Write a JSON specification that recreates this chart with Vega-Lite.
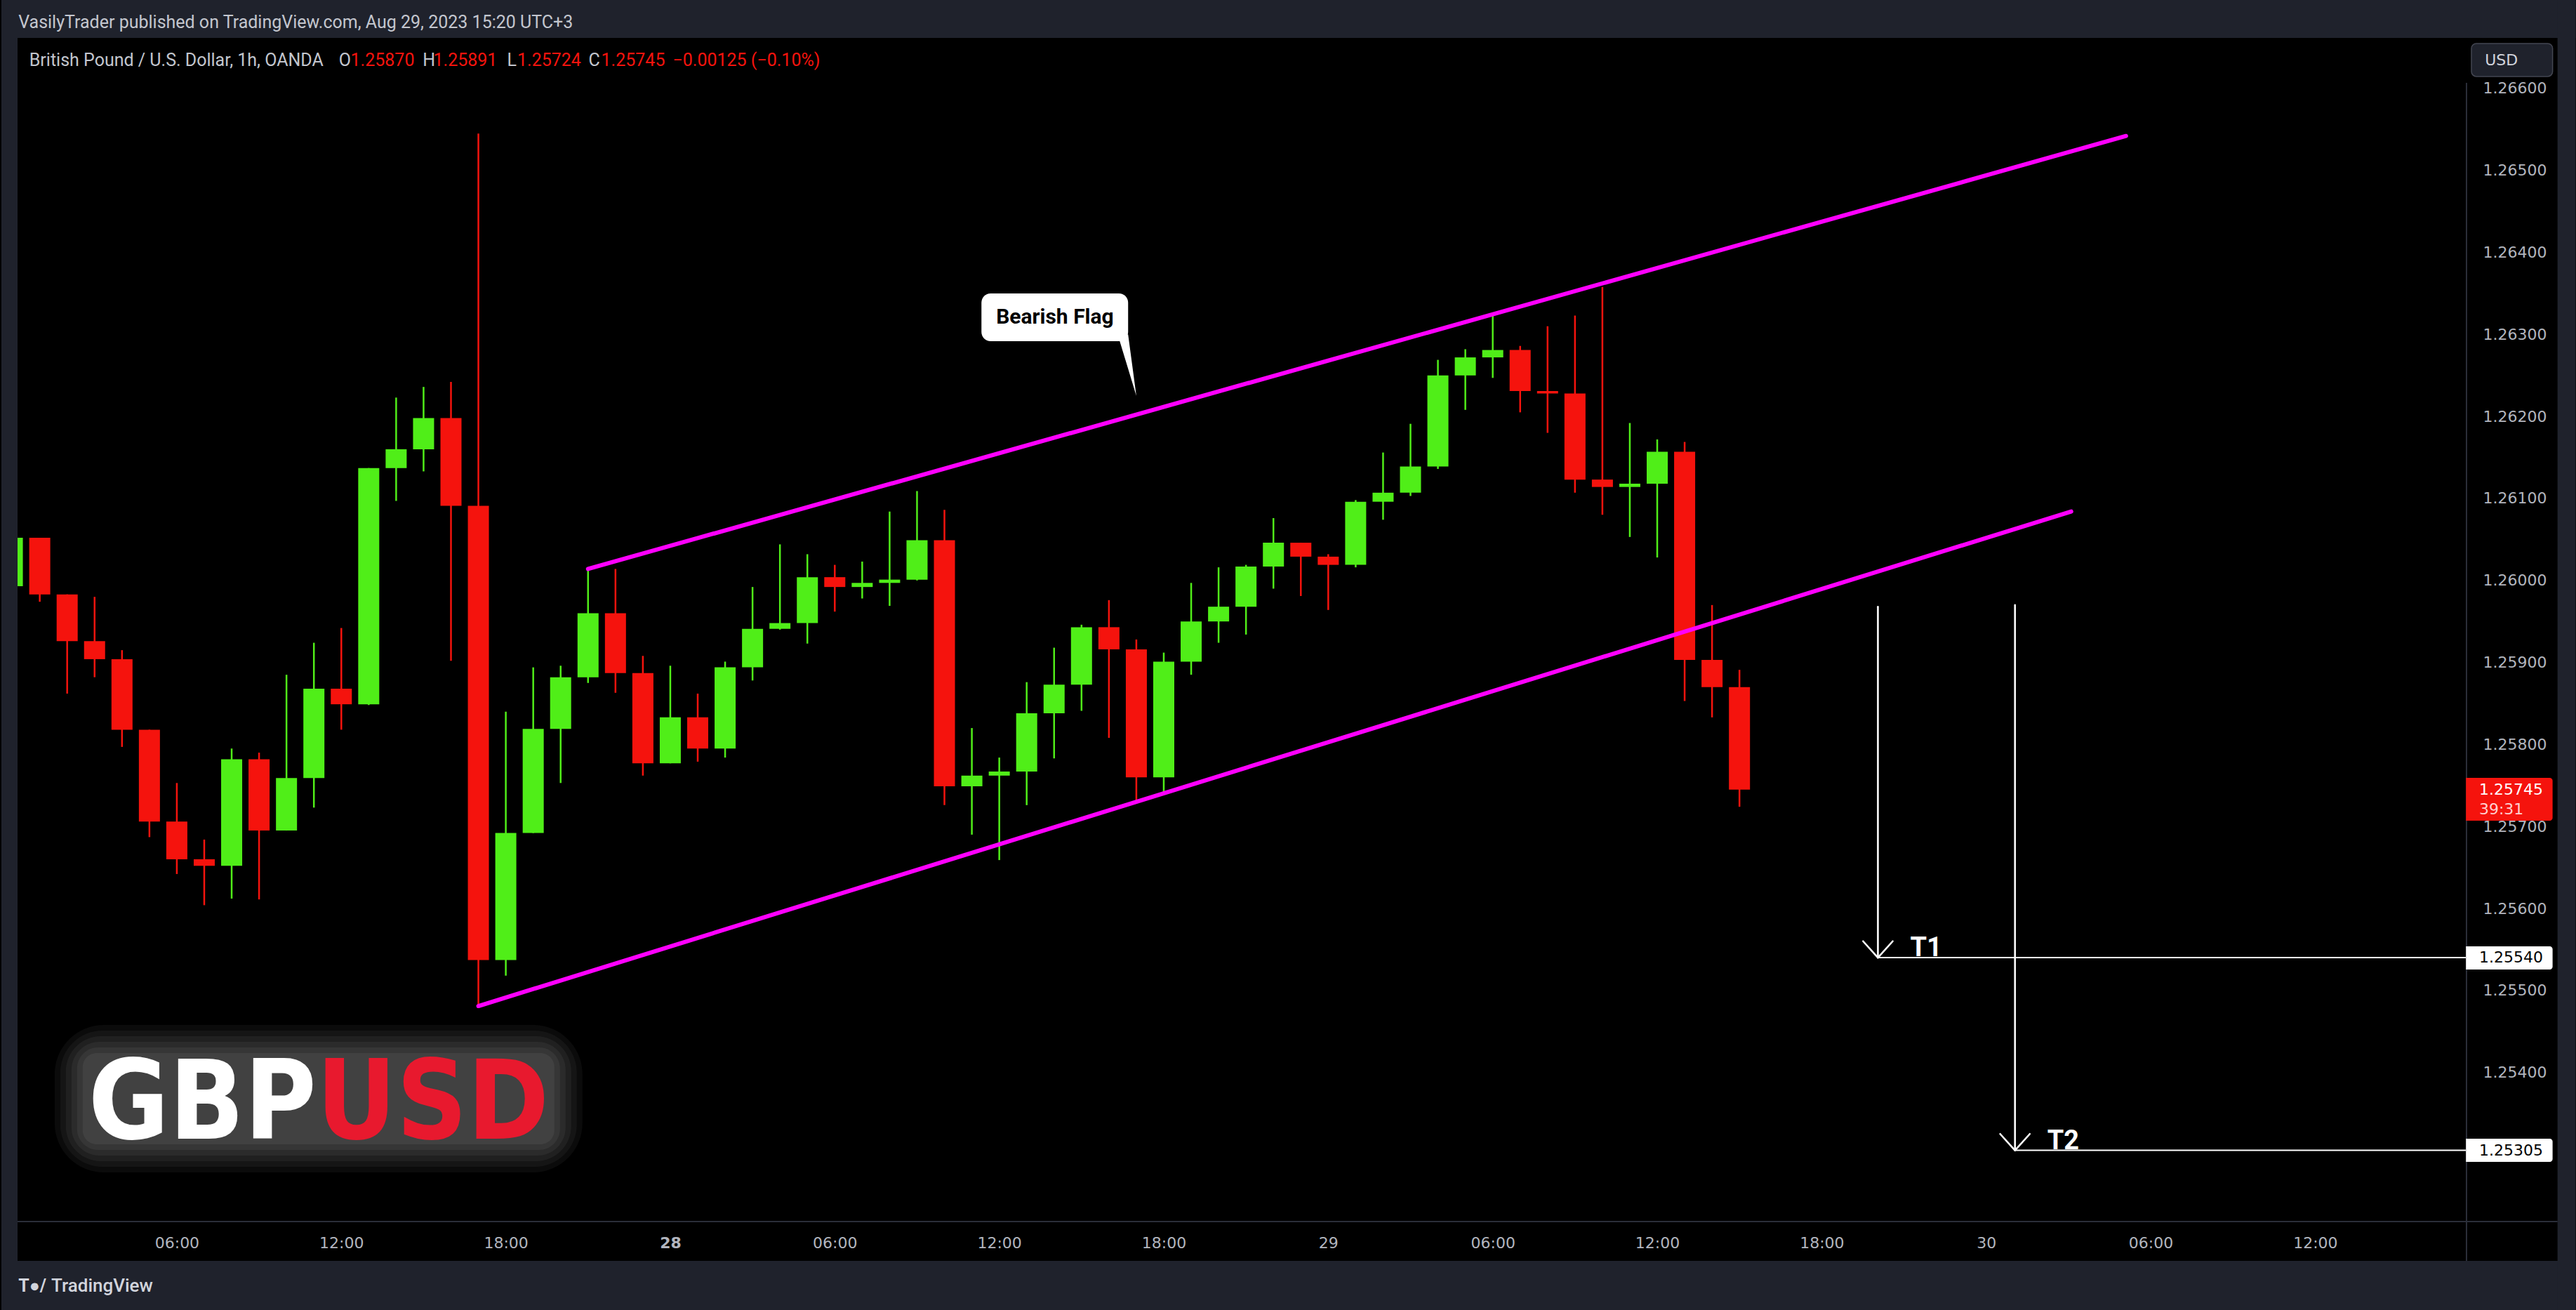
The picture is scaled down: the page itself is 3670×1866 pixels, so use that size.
{
  "$schema": "https://vega.github.io/schema/vega-lite/v6.json",
  "width": 3499,
  "height": 1686,
  "autosize": {"type": "none"},
  "padding": {"left": 20, "top": 54, "right": 151, "bottom": 126},
  "background": "#000000",
  "config": {"view": {"stroke": null}},
  "datasets": {
    "candles": [
      {"i":-24,"o":1.25993,"h":1.26070,"l":1.25975,"c":1.26052},
      {"i":-23,"o":1.26052,"h":1.26052,"l":1.25974,"c":1.25983},
      {"i":-22,"o":1.25983,"h":1.25983,"l":1.25862,"c":1.25926},
      {"i":-21,"o":1.25926,"h":1.25980,"l":1.25882,"c":1.25904},
      {"i":-20,"o":1.25904,"h":1.25915,"l":1.25797,"c":1.25818},
      {"i":-19,"o":1.25818,"h":1.25818,"l":1.25687,"c":1.25706},
      {"i":-18,"o":1.25706,"h":1.25753,"l":1.25642,"c":1.25660},
      {"i":-17,"o":1.25660,"h":1.25684,"l":1.25604,"c":1.25652},
      {"i":-16,"o":1.25652,"h":1.25795,"l":1.25612,"c":1.25782},
      {"i":-15,"o":1.25782,"h":1.25790,"l":1.25611,"c":1.25695},
      {"i":-14,"o":1.25695,"h":1.25885,"l":1.25695,"c":1.25759},
      {"i":-13,"o":1.25759,"h":1.25924,"l":1.25723,"c":1.25868},
      {"i":-12,"o":1.25868,"h":1.25942,"l":1.25818,"c":1.25849},
      {"i":-11,"o":1.25849,"h":1.26137,"l":1.25848,"c":1.26137},
      {"i":-10,"o":1.26137,"h":1.26223,"l":1.26097,"c":1.26160},
      {"i":-9,"o":1.26160,"h":1.26236,"l":1.26133,"c":1.26198},
      {"i":-8,"o":1.26198,"h":1.26242,"l":1.25902,"c":1.26091},
      {"i":-7,"o":1.26091,"h":1.26545,"l":1.25481,"c":1.25537},
      {"i":-6,"o":1.25537,"h":1.25840,"l":1.25518,"c":1.25692},
      {"i":-5,"o":1.25692,"h":1.25894,"l":1.25692,"c":1.25819},
      {"i":-4,"o":1.25819,"h":1.25896,"l":1.25753,"c":1.25882},
      {"i":-3,"o":1.25882,"h":1.26014,"l":1.25875,"c":1.25960},
      {"i":-2,"o":1.25960,"h":1.26014,"l":1.25863,"c":1.25887},
      {"i":-1,"o":1.25887,"h":1.25908,"l":1.25762,"c":1.25777},
      {"i":0,"o":1.25777,"h":1.25896,"l":1.25777,"c":1.25833},
      {"i":1,"o":1.25833,"h":1.25862,"l":1.25779,"c":1.25795},
      {"i":2,"o":1.25795,"h":1.25901,"l":1.25784,"c":1.25894},
      {"i":3,"o":1.25894,"h":1.25992,"l":1.25878,"c":1.25941},
      {"i":4,"o":1.25941,"h":1.26044,"l":1.25940,"c":1.25948},
      {"i":5,"o":1.25948,"h":1.26032,"l":1.25923,"c":1.26004},
      {"i":6,"o":1.26004,"h":1.26019,"l":1.25962,"c":1.25992},
      {"i":7,"o":1.25992,"h":1.26023,"l":1.25978,"c":1.25997},
      {"i":8,"o":1.25997,"h":1.26084,"l":1.25969,"c":1.26001},
      {"i":9,"o":1.26001,"h":1.26109,"l":1.26000,"c":1.26049},
      {"i":10,"o":1.26049,"h":1.26086,"l":1.25726,"c":1.25749},
      {"i":11,"o":1.25749,"h":1.25820,"l":1.25690,"c":1.25762},
      {"i":12,"o":1.25762,"h":1.25784,"l":1.25659,"c":1.25767},
      {"i":13,"o":1.25767,"h":1.25876,"l":1.25726,"c":1.25838},
      {"i":14,"o":1.25838,"h":1.25918,"l":1.25783,"c":1.25873},
      {"i":15,"o":1.25873,"h":1.25946,"l":1.25841,"c":1.25943},
      {"i":16,"o":1.25943,"h":1.25976,"l":1.25808,"c":1.25916},
      {"i":17,"o":1.25916,"h":1.25928,"l":1.25730,"c":1.25760},
      {"i":18,"o":1.25760,"h":1.25912,"l":1.25742,"c":1.25901},
      {"i":19,"o":1.25901,"h":1.25997,"l":1.25885,"c":1.25950},
      {"i":20,"o":1.25950,"h":1.26016,"l":1.25924,"c":1.25968},
      {"i":21,"o":1.25968,"h":1.26019,"l":1.25934,"c":1.26017},
      {"i":22,"o":1.26017,"h":1.26076,"l":1.25990,"c":1.26046},
      {"i":23,"o":1.26046,"h":1.26046,"l":1.25981,"c":1.26029},
      {"i":24,"o":1.26029,"h":1.26032,"l":1.25964,"c":1.26019},
      {"i":25,"o":1.26019,"h":1.26098,"l":1.26016,"c":1.26096},
      {"i":26,"o":1.26096,"h":1.26156,"l":1.26074,"c":1.26107},
      {"i":27,"o":1.26107,"h":1.26191,"l":1.26103,"c":1.26139},
      {"i":28,"o":1.26139,"h":1.26269,"l":1.26136,"c":1.26250},
      {"i":29,"o":1.26250,"h":1.26282,"l":1.26208,"c":1.26272},
      {"i":30,"o":1.26272,"h":1.26323,"l":1.26247,"c":1.26281},
      {"i":31,"o":1.26281,"h":1.26286,"l":1.26205,"c":1.26231},
      {"i":32,"o":1.26231,"h":1.26310,"l":1.26180,"c":1.26228},
      {"i":33,"o":1.26228,"h":1.26323,"l":1.26107,"c":1.26123},
      {"i":34,"o":1.26123,"h":1.26358,"l":1.26080,"c":1.26114},
      {"i":35,"o":1.26114,"h":1.26192,"l":1.26053,"c":1.26118},
      {"i":36,"o":1.26118,"h":1.26172,"l":1.26028,"c":1.26157},
      {"i":37,"o":1.26157,"h":1.26169,"l":1.25853,"c":1.25903},
      {"i":38,"o":1.25903,"h":1.25970,"l":1.25833,"c":1.25870},
      {"i":39,"o":1.25870,"h":1.25891,"l":1.25724,"c":1.25745}
    ],
    "channel": [
      {"line":"upper","i1":-3,"p1":1.26014,"i2":53.1,"p2":1.26542},
      {"line":"lower","i1":-7,"p1":1.25481,"i2":51.1,"p2":1.26084}
    ],
    "targets": [
      {"part":"arrow","i1":44.05,"p1":1.25968,"i2":44.05,"p2":1.2554},
      {"part":"arrow","i1":43.51,"p1":1.2556,"i2":44.05,"p2":1.2554},
      {"part":"arrow","i1":44.59,"p1":1.2556,"i2":44.05,"p2":1.2554},
      {"part":"level","i1":44.05,"p1":1.2554,"i2":65.52,"p2":1.2554},
      {"part":"arrow","i1":49.05,"p1":1.2597,"i2":49.05,"p2":1.25305},
      {"part":"arrow","i1":48.51,"p1":1.25325,"i2":49.05,"p2":1.25305},
      {"part":"arrow","i1":49.59,"p1":1.25325,"i2":49.05,"p2":1.25305},
      {"part":"level","i1":49.05,"p1":1.25305,"i2":65.52,"p2":1.25305}
    ],
    "targetLabels": [
      {"t":"T1","i":44.05,"p":1.2554},
      {"t":"T2","i":49.05,"p":1.25305}
    ],
    "tail": [
      {"i":16.32,"top":1.263,"bot":1.263},
      {"i":16.70,"top":1.263,"bot":1.262581},
      {"i":17.0,"top":1.26225,"bot":1.26225}
    ]
  },
  "layer": [
    {
      "data": {"name": "candles"},
      "mark": {"type": "rule", "strokeWidth": 2.5, "clip": true},
      "encoding": {
        "x": {"field": "i", "type": "quantitative", "scale": {"domain": [-23.81, 65.52], "nice": false, "zero": false},
          "axis": {"orient": "bottom", "values": [-24,-18,-12,-6,0,6,12,18,24,30,36,42,48,54,60],
            "labelExpr": "datum.value == -24 ? '25' : datum.value == 0 ? '28' : datum.value == 24 ? '29' : datum.value == 48 ? '30' : ((datum.value % 24) + 24) % 24 == 6 ? '06:00' : ((datum.value % 24) + 24) % 24 == 12 ? '12:00' : '18:00'",
            "labelFont": "DejaVu Sans", "labelFontSize": 22, "labelColor": "#b2b5be",
            "labelFontWeight": {"condition": {"test": "datum.value == 0", "value": "bold"}, "value": "normal"},
            "ticks": false, "domain": false, "grid": false, "labelPadding": 20, "labelOverlap": false, "labelFlush": false, "labelBound": false, "title": null}},
        "y": {"field": "l", "type": "quantitative", "scale": {"domain": [1.252182, 1.266616], "nice": false, "zero": false},
          "axis": {"orient": "right", "values": [1.253,1.254,1.255,1.256,1.257,1.258,1.259,1.26,1.261,1.262,1.263,1.264,1.265,1.266],
            "format": ".5f", "labelFont": "DejaVu Sans", "labelFontSize": 22, "labelColor": "#b2b5be",
            "ticks": false, "domain": false, "grid": false, "labelPadding": 18, "labelAlign": "left", "labelBaseline": "middle",
            "labelOverlap": false, "labelFlush": false, "labelBound": false, "title": null}},
        "y2": {"field": "h"},
        "color": {"condition": {"test": "datum.c >= datum.o", "value": "#50ee18"}, "value": "#f5130d"}
      }
    },
    {
      "data": {"name": "candles"},
      "mark": {"type": "bar", "size": 30, "clip": true},
      "encoding": {
        "x": {"field": "i", "type": "quantitative", "scale": {"domain": [-23.81, 65.52], "nice": false, "zero": false}},
        "y": {"field": "o", "type": "quantitative", "scale": {"domain": [1.252182, 1.266616], "nice": false, "zero": false}},
        "y2": {"field": "c"},
        "color": {"condition": {"test": "datum.c >= datum.o", "value": "#50ee18"}, "value": "#f5130d"}
      }
    },
    {
      "data": {"name": "channel"},
      "mark": {"type": "rule", "strokeWidth": 6, "color": "#ff00ff", "strokeCap": "round"},
      "encoding": {
        "x": {"field": "i1", "type": "quantitative", "scale": {"domain": [-23.81, 65.52], "nice": false, "zero": false}},
        "x2": {"field": "i2"},
        "y": {"field": "p1", "type": "quantitative", "scale": {"domain": [1.252182, 1.266616], "nice": false, "zero": false}},
        "y2": {"field": "p2"}
      }
    },
    {
      "data": {"name": "targets"},
      "transform": [{"filter": "datum.part == 'arrow'"}],
      "mark": {"type": "rule", "strokeWidth": 2.6, "color": "#ffffff", "strokeCap": "round"},
      "encoding": {
        "x": {"field": "i1", "type": "quantitative", "scale": {"domain": [-23.81, 65.52], "nice": false, "zero": false}},
        "x2": {"field": "i2"},
        "y": {"field": "p1", "type": "quantitative", "scale": {"domain": [1.252182, 1.266616], "nice": false, "zero": false}},
        "y2": {"field": "p2"}
      }
    },
    {
      "data": {"name": "targets"},
      "transform": [{"filter": "datum.part == 'level'"}],
      "mark": {"type": "rule", "strokeWidth": 2, "color": "#ffffff"},
      "encoding": {
        "x": {"field": "i1", "type": "quantitative", "scale": {"domain": [-23.81, 65.52], "nice": false, "zero": false}},
        "x2": {"field": "i2"},
        "y": {"field": "p1", "type": "quantitative", "scale": {"domain": [1.252182, 1.266616], "nice": false, "zero": false}},
        "y2": {"field": "p2"}
      }
    },
    {
      "data": {"name": "targetLabels"},
      "mark": {"type": "text", "font": "Roboto", "fontSize": 38, "fontWeight": "bold", "color": "#ffffff", "align": "left", "baseline": "alphabetic", "dx": 46, "dy": -2},
      "encoding": {
        "x": {"field": "i", "type": "quantitative", "scale": {"domain": [-23.81, 65.52], "nice": false, "zero": false}},
        "y": {"field": "p", "type": "quantitative", "scale": {"domain": [1.252182, 1.266616], "nice": false, "zero": false}},
        "text": {"field": "t"}
      }
    },
    {
      "data": {"values": [{}]},
      "mark": {"type": "rect", "color": "#ffffff", "cornerRadius": 13},
      "encoding": {
        "x": {"datum": 11.35, "type": "quantitative", "scale": {"domain": [-23.81, 65.52], "nice": false, "zero": false}},
        "x2": {"datum": 16.70},
        "y": {"datum": 1.2635, "type": "quantitative", "scale": {"domain": [1.252182, 1.266616], "nice": false, "zero": false}},
        "y2": {"datum": 1.262918}
      }
    },
    {
      "data": {"name": "tail"},
      "mark": {"type": "area", "color": "#ffffff"},
      "encoding": {
        "x": {"field": "i", "type": "quantitative", "scale": {"domain": [-23.81, 65.52], "nice": false, "zero": false}},
        "y": {"field": "top", "type": "quantitative", "scale": {"domain": [1.252182, 1.266616], "nice": false, "zero": false}},
        "y2": {"field": "bot"}
      }
    },
    {
      "data": {"values": [{}]},
      "mark": {"type": "text", "text": "Bearish Flag", "font": "Roboto", "fontSize": 30, "fontWeight": "bold", "color": "#000000", "align": "center", "baseline": "middle"},
      "encoding": {
        "x": {"datum": 14.03, "type": "quantitative", "scale": {"domain": [-23.81, 65.52], "nice": false, "zero": false}},
        "y": {"datum": 1.263209, "type": "quantitative", "scale": {"domain": [1.252182, 1.266616], "nice": false, "zero": false}}
      }
    },
    {
      "data": {"values": [{}]},
      "mark": {"type": "rect", "color": "#ffffff", "opacity": 0.045, "cornerRadius": 70},
      "encoding": {
        "x": {"datum": -22.456, "type": "quantitative", "scale": {"domain": [-23.81, 65.52], "nice": false, "zero": false}},
        "x2": {"datum": -3.206},
        "y": {"datum": 1.254579, "type": "quantitative", "scale": {"domain": [1.252182, 1.266616], "nice": false, "zero": false}},
        "y2": {"datum": 1.252781}
      }
    },
    {
      "data": {"values": [{}]},
      "mark": {"type": "rect", "color": "#ffffff", "opacity": 0.045, "cornerRadius": 60},
      "encoding": {
        "x": {"datum": -22.252, "type": "quantitative", "scale": {"domain": [-23.81, 65.52], "nice": false, "zero": false}},
        "x2": {"datum": -3.410},
        "y": {"datum": 1.254510, "type": "quantitative", "scale": {"domain": [1.252182, 1.266616], "nice": false, "zero": false}},
        "y2": {"datum": 1.252849}
      }
    },
    {
      "data": {"values": [{}]},
      "mark": {"type": "rect", "color": "#ffffff", "opacity": 0.05, "cornerRadius": 50},
      "encoding": {
        "x": {"datum": -22.048, "type": "quantitative", "scale": {"domain": [-23.81, 65.52], "nice": false, "zero": false}},
        "x2": {"datum": -3.615},
        "y": {"datum": 1.254442, "type": "quantitative", "scale": {"domain": [1.252182, 1.266616], "nice": false, "zero": false}},
        "y2": {"datum": 1.252918}
      }
    },
    {
      "data": {"values": [{}]},
      "mark": {"type": "rect", "color": "#ffffff", "opacity": 0.05, "cornerRadius": 40},
      "encoding": {
        "x": {"datum": -21.843, "type": "quantitative", "scale": {"domain": [-23.81, 65.52], "nice": false, "zero": false}},
        "x2": {"datum": -3.819},
        "y": {"datum": 1.254373, "type": "quantitative", "scale": {"domain": [1.252182, 1.266616], "nice": false, "zero": false}},
        "y2": {"datum": 1.252986}
      }
    },
    {
      "data": {"values": [{}]},
      "mark": {"type": "rect", "color": "#ffffff", "opacity": 0.055, "cornerRadius": 30},
      "encoding": {
        "x": {"datum": -21.639, "type": "quantitative", "scale": {"domain": [-23.81, 65.52], "nice": false, "zero": false}},
        "x2": {"datum": -4.023},
        "y": {"datum": 1.254305, "type": "quantitative", "scale": {"domain": [1.252182, 1.266616], "nice": false, "zero": false}},
        "y2": {"datum": 1.253055}
      }
    },
    {
      "data": {"values": [{}]},
      "mark": {"type": "rect", "color": "#ffffff", "opacity": 0.055, "cornerRadius": 20},
      "encoding": {
        "x": {"datum": -21.435, "type": "quantitative", "scale": {"domain": [-23.81, 65.52], "nice": false, "zero": false}},
        "x2": {"datum": -4.228},
        "y": {"datum": 1.254236, "type": "quantitative", "scale": {"domain": [1.252182, 1.266616], "nice": false, "zero": false}},
        "y2": {"datum": 1.253123}
      }
    },
    {
      "data": {"values": [{}]},
      "mark": {"type": "text", "text": "GBP", "font": "DejaVu Sans Condensed, Roboto", "fontSize": 156, "fontWeight": "bold", "color": "#ffffff", "align": "right", "baseline": "alphabetic"},
      "encoding": {
        "x": {"datum": -12.91, "type": "quantitative", "scale": {"domain": [-23.81, 65.52], "nice": false, "zero": false}},
        "y": {"datum": 1.253192, "type": "quantitative", "scale": {"domain": [1.252182, 1.266616], "nice": false, "zero": false}}
      }
    },
    {
      "data": {"values": [{}]},
      "mark": {"type": "text", "text": "USD", "font": "DejaVu Sans Condensed, Roboto", "fontSize": 156, "fontWeight": "bold", "color": "#e8192e", "align": "left", "baseline": "alphabetic"},
      "encoding": {
        "x": {"datum": -12.91, "type": "quantitative", "scale": {"domain": [-23.81, 65.52], "nice": false, "zero": false}},
        "y": {"datum": 1.253192, "type": "quantitative", "scale": {"domain": [1.252182, 1.266616], "nice": false, "zero": false}}
      }
    },
    {
      "data": {"values": [{}]},
      "mark": {"type": "rect", "color": "#1f222c"},
      "encoding": {
        "x": {"datum": -24.4, "type": "quantitative", "scale": {"domain": [-23.81, 65.52], "nice": false, "zero": false}},
        "x2": {"datum": 69.5},
        "y": {"datum": 1.2672, "type": "quantitative", "scale": {"domain": [1.252182, 1.266616], "nice": false, "zero": false}},
        "y2": {"datum": 1.266616}
      }
    },
    {
      "data": {"values": [{}]},
      "mark": {"type": "rect", "color": "#1f222c"},
      "encoding": {
        "x": {"datum": -24.4, "type": "quantitative", "scale": {"domain": [-23.81, 65.52], "nice": false, "zero": false}},
        "x2": {"datum": 69.5},
        "y": {"datum": 1.251702, "type": "quantitative", "scale": {"domain": [1.252182, 1.266616], "nice": false, "zero": false}},
        "y2": {"datum": 1.2510}
      }
    },
    {
      "data": {"values": [{}]},
      "mark": {"type": "rect", "color": "#1f222c"},
      "encoding": {
        "x": {"datum": -24.4, "type": "quantitative", "scale": {"domain": [-23.81, 65.52], "nice": false, "zero": false}},
        "x2": {"datum": -23.81},
        "y": {"datum": 1.2672, "type": "quantitative", "scale": {"domain": [1.252182, 1.266616], "nice": false, "zero": false}},
        "y2": {"datum": 1.2510}
      }
    },
    {
      "data": {"values": [{}]},
      "mark": {"type": "rect", "color": "#1f222c"},
      "encoding": {
        "x": {"datum": 68.84, "type": "quantitative", "scale": {"domain": [-23.81, 65.52], "nice": false, "zero": false}},
        "x2": {"datum": 69.5},
        "y": {"datum": 1.2672, "type": "quantitative", "scale": {"domain": [1.252182, 1.266616], "nice": false, "zero": false}},
        "y2": {"datum": 1.2510}
      }
    },
    {
      "data": {"values": [{}]},
      "mark": {"type": "rule", "color": "#2a2e39", "strokeWidth": 2},
      "encoding": {
        "x": {"datum": -23.81, "type": "quantitative", "scale": {"domain": [-23.81, 65.52], "nice": false, "zero": false}},
        "x2": {"datum": 68.84},
        "y": {"datum": 1.252182, "type": "quantitative", "scale": {"domain": [1.252182, 1.266616], "nice": false, "zero": false}}
      }
    },
    {
      "data": {"values": [{}]},
      "mark": {"type": "rule", "color": "#2a2e39", "strokeWidth": 2},
      "encoding": {
        "x": {"datum": 65.52, "type": "quantitative", "scale": {"domain": [-23.81, 65.52], "nice": false, "zero": false}},
        "y": {"datum": 1.266068, "type": "quantitative", "scale": {"domain": [1.252182, 1.266616], "nice": false, "zero": false}},
        "y2": {"datum": 1.251702}
      }
    },
    {
      "data": {"values": [{}]},
      "mark": {"type": "rect", "color": "#ffffff", "cornerRadiusTopRight": 4, "cornerRadiusBottomRight": 4},
      "encoding": {
        "x": {"datum": 65.50, "type": "quantitative", "scale": {"domain": [-23.81, 65.52], "nice": false, "zero": false}},
        "x2": {"datum": 68.66},
        "y": {"datum": 1.255538, "type": "quantitative", "scale": {"domain": [1.252182, 1.266616], "nice": false, "zero": false}},
        "y2": {"datum": 1.255255}
      }
    },
    {
      "data": {"values": [{}]},
      "mark": {"type": "rect", "color": "#ffffff", "cornerRadiusTopRight": 4, "cornerRadiusBottomRight": 4},
      "encoding": {
        "x": {"datum": 65.50, "type": "quantitative", "scale": {"domain": [-23.81, 65.52], "nice": false, "zero": false}},
        "x2": {"datum": 68.66},
        "y": {"datum": 1.253192, "type": "quantitative", "scale": {"domain": [1.252182, 1.266616], "nice": false, "zero": false}},
        "y2": {"datum": 1.252909}
      }
    },
    {
      "data": {"values": [{}]},
      "mark": {"type": "rect", "color": "#f5130d", "cornerRadiusTopRight": 4, "cornerRadiusBottomRight": 4},
      "encoding": {
        "x": {"datum": 65.50, "type": "quantitative", "scale": {"domain": [-23.81, 65.52], "nice": false, "zero": false}},
        "x2": {"datum": 68.66},
        "y": {"datum": 1.257592, "type": "quantitative", "scale": {"domain": [1.252182, 1.266616], "nice": false, "zero": false}},
        "y2": {"datum": 1.25707}
      }
    },
    {
      "data": {"values": [{"t": "1.25540", "p": 1.2554}, {"t": "1.25305", "p": 1.25305}]},
      "mark": {"type": "text", "font": "DejaVu Sans", "fontSize": 22, "color": "#000000", "align": "left", "baseline": "middle"},
      "encoding": {
        "x": {"datum": 65.98, "type": "quantitative", "scale": {"domain": [-23.81, 65.52], "nice": false, "zero": false}},
        "y": {"field": "p", "type": "quantitative", "scale": {"domain": [1.252182, 1.266616], "nice": false, "zero": false}},
        "text": {"field": "t"}
      }
    },
    {
      "data": {"values": [{"t": "1.25745", "p": 1.257447}]},
      "mark": {"type": "text", "font": "DejaVu Sans", "fontSize": 22, "color": "#ffffff", "align": "left", "baseline": "middle"},
      "encoding": {
        "x": {"datum": 65.98, "type": "quantitative", "scale": {"domain": [-23.81, 65.52], "nice": false, "zero": false}},
        "y": {"field": "p", "type": "quantitative", "scale": {"domain": [1.252182, 1.266616], "nice": false, "zero": false}},
        "text": {"field": "t"}
      }
    },
    {
      "data": {"values": [{}]},
      "mark": {"type": "text", "text": "39:31", "font": "DejaVu Sans", "fontSize": 22, "color": "#ffd0d0", "align": "left", "baseline": "middle"},
      "encoding": {
        "x": {"datum": 65.98, "type": "quantitative", "scale": {"domain": [-23.81, 65.52], "nice": false, "zero": false}},
        "y": {"datum": 1.257211, "type": "quantitative", "scale": {"domain": [1.252182, 1.266616], "nice": false, "zero": false}}
      }
    },
    {
      "data": {"values": [{}]},
      "mark": {"type": "rect", "color": "#1f222c", "stroke": "#434651", "strokeWidth": 1.5, "cornerRadius": 7},
      "encoding": {
        "x": {"datum": 65.70, "type": "quantitative", "scale": {"domain": [-23.81, 65.52], "nice": false, "zero": false}},
        "x2": {"datum": 68.66},
        "y": {"datum": 1.266548, "type": "quantitative", "scale": {"domain": [1.252182, 1.266616], "nice": false, "zero": false}},
        "y2": {"datum": 1.266146}
      }
    },
    {
      "data": {"values": [{}]},
      "mark": {"type": "text", "text": "USD", "font": "DejaVu Sans", "fontSize": 22, "color": "#d1d4dc", "align": "left", "baseline": "middle"},
      "encoding": {
        "x": {"datum": 66.19, "type": "quantitative", "scale": {"domain": [-23.81, 65.52], "nice": false, "zero": false}},
        "y": {"datum": 1.266342, "type": "quantitative", "scale": {"domain": [1.252182, 1.266616], "nice": false, "zero": false}}
      }
    },
    {
      "data": {"values": [{}]},
      "mark": {"type": "text", "text": "VasilyTrader published on TradingView.com, Aug 29, 2023 15:20 UTC+3", "font": "Roboto", "fontSize": 25, "color": "#c3c6ce", "align": "left", "baseline": "middle"},
      "encoding": {
        "x": {"datum": -23.78, "type": "quantitative", "scale": {"domain": [-23.81, 65.52], "nice": false, "zero": false}},
        "y": {"datum": 1.266805, "type": "quantitative", "scale": {"domain": [1.252182, 1.266616], "nice": false, "zero": false}}
      }
    },
    {
      "data": {"values": [{}]},
      "mark": {"type": "text", "text": "British Pound / U.S. Dollar, 1h, OANDA", "font": "Roboto", "fontSize": 25, "color": "#c3c6ce", "align": "left", "baseline": "middle"},
      "encoding": {
        "x": {"datum": -23.38, "type": "quantitative", "scale": {"domain": [-23.81, 65.52], "nice": false, "zero": false}},
        "y": {"datum": 1.266342, "type": "quantitative", "scale": {"domain": [1.252182, 1.266616], "nice": false, "zero": false}}
      }
    },
    {
      "data": {"values": [{}]},
      "mark": {"type": "text", "text": "O", "font": "Roboto", "fontSize": 25, "color": "#c3c6ce", "align": "left", "baseline": "middle"},
      "encoding": {
        "x": {"datum": -12.09, "type": "quantitative", "scale": {"domain": [-23.81, 65.52], "nice": false, "zero": false}},
        "y": {"datum": 1.266342, "type": "quantitative", "scale": {"domain": [1.252182, 1.266616], "nice": false, "zero": false}}
      }
    },
    {
      "data": {"values": [{}]},
      "mark": {"type": "text", "text": "1.25870", "font": "Roboto", "fontSize": 25, "color": "#f5130d", "align": "left", "baseline": "middle"},
      "encoding": {
        "x": {"datum": -11.66, "type": "quantitative", "scale": {"domain": [-23.81, 65.52], "nice": false, "zero": false}},
        "y": {"datum": 1.266342, "type": "quantitative", "scale": {"domain": [1.252182, 1.266616], "nice": false, "zero": false}}
      }
    },
    {
      "data": {"values": [{}]},
      "mark": {"type": "text", "text": "H", "font": "Roboto", "fontSize": 25, "color": "#c3c6ce", "align": "left", "baseline": "middle"},
      "encoding": {
        "x": {"datum": -9.03, "type": "quantitative", "scale": {"domain": [-23.81, 65.52], "nice": false, "zero": false}},
        "y": {"datum": 1.266342, "type": "quantitative", "scale": {"domain": [1.252182, 1.266616], "nice": false, "zero": false}}
      }
    },
    {
      "data": {"values": [{}]},
      "mark": {"type": "text", "text": "1.25891", "font": "Roboto", "fontSize": 25, "color": "#f5130d", "align": "left", "baseline": "middle"},
      "encoding": {
        "x": {"datum": -8.64, "type": "quantitative", "scale": {"domain": [-23.81, 65.52], "nice": false, "zero": false}},
        "y": {"datum": 1.266342, "type": "quantitative", "scale": {"domain": [1.252182, 1.266616], "nice": false, "zero": false}}
      }
    },
    {
      "data": {"values": [{}]},
      "mark": {"type": "text", "text": "L", "font": "Roboto", "fontSize": 25, "color": "#c3c6ce", "align": "left", "baseline": "middle"},
      "encoding": {
        "x": {"datum": -5.95, "type": "quantitative", "scale": {"domain": [-23.81, 65.52], "nice": false, "zero": false}},
        "y": {"datum": 1.266342, "type": "quantitative", "scale": {"domain": [1.252182, 1.266616], "nice": false, "zero": false}}
      }
    },
    {
      "data": {"values": [{}]},
      "mark": {"type": "text", "text": "1.25724", "font": "Roboto", "fontSize": 25, "color": "#f5130d", "align": "left", "baseline": "middle"},
      "encoding": {
        "x": {"datum": -5.58, "type": "quantitative", "scale": {"domain": [-23.81, 65.52], "nice": false, "zero": false}},
        "y": {"datum": 1.266342, "type": "quantitative", "scale": {"domain": [1.252182, 1.266616], "nice": false, "zero": false}}
      }
    },
    {
      "data": {"values": [{}]},
      "mark": {"type": "text", "text": "C", "font": "Roboto", "fontSize": 25, "color": "#c3c6ce", "align": "left", "baseline": "middle"},
      "encoding": {
        "x": {"datum": -2.98, "type": "quantitative", "scale": {"domain": [-23.81, 65.52], "nice": false, "zero": false}},
        "y": {"datum": 1.266342, "type": "quantitative", "scale": {"domain": [1.252182, 1.266616], "nice": false, "zero": false}}
      }
    },
    {
      "data": {"values": [{}]},
      "mark": {"type": "text", "text": "1.25745", "font": "Roboto", "fontSize": 25, "color": "#f5130d", "align": "left", "baseline": "middle"},
      "encoding": {
        "x": {"datum": -2.52, "type": "quantitative", "scale": {"domain": [-23.81, 65.52], "nice": false, "zero": false}},
        "y": {"datum": 1.266342, "type": "quantitative", "scale": {"domain": [1.252182, 1.266616], "nice": false, "zero": false}}
      }
    },
    {
      "data": {"values": [{}]},
      "mark": {"type": "text", "text": "−0.00125 (−0.10%)", "font": "Roboto", "fontSize": 25, "color": "#f5130d", "align": "left", "baseline": "middle"},
      "encoding": {
        "x": {"datum": 0.09, "type": "quantitative", "scale": {"domain": [-23.81, 65.52], "nice": false, "zero": false}},
        "y": {"datum": 1.266342, "type": "quantitative", "scale": {"domain": [1.252182, 1.266616], "nice": false, "zero": false}}
      }
    },
    {
      "data": {"values": [{}]},
      "mark": {"type": "text", "text": "T●/", "font": "Roboto", "fontSize": 25, "fontWeight": "bold", "color": "#d1d4dc", "align": "left", "baseline": "middle"},
      "encoding": {
        "x": {"datum": -23.78, "type": "quantitative", "scale": {"domain": [-23.81, 65.52], "nice": false, "zero": false}},
        "y": {"datum": 1.251394, "type": "quantitative", "scale": {"domain": [1.252182, 1.266616], "nice": false, "zero": false}}
      }
    },
    {
      "data": {"values": [{}]},
      "mark": {"type": "text", "text": "TradingView", "font": "Roboto", "fontSize": 26, "fontWeight": 500, "color": "#d1d4dc", "align": "left", "baseline": "middle"},
      "encoding": {
        "x": {"datum": -22.58, "type": "quantitative", "scale": {"domain": [-23.81, 65.52], "nice": false, "zero": false}},
        "y": {"datum": 1.251394, "type": "quantitative", "scale": {"domain": [1.252182, 1.266616], "nice": false, "zero": false}}
      }
    }
  ]
}
